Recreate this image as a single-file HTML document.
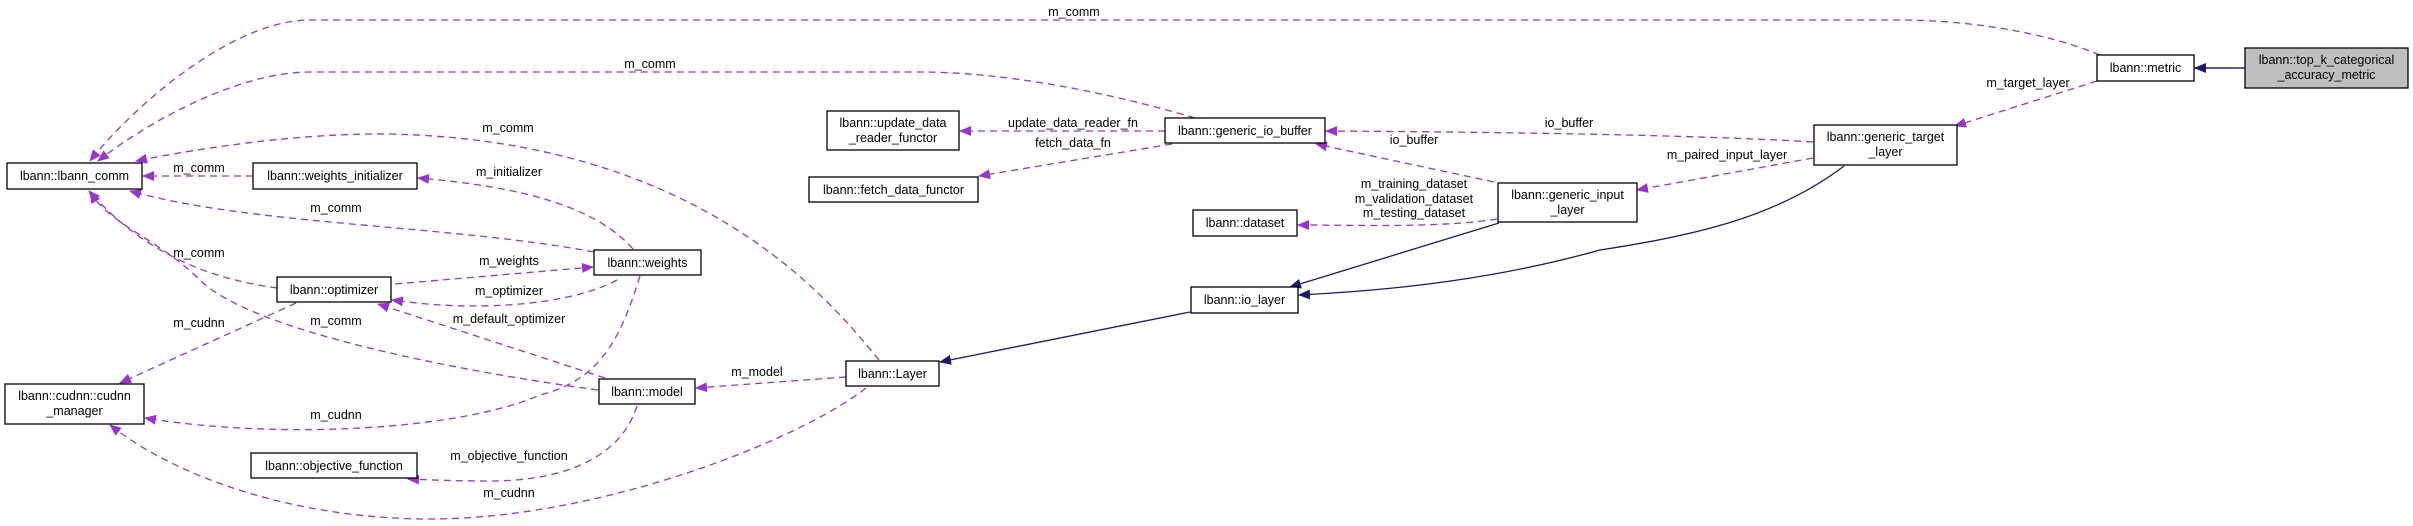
<!DOCTYPE html>
<html><head><meta charset="utf-8"><style>
html,body{margin:0;padding:0;background:#fff;}
svg{display:block;font-family:"Liberation Sans",sans-serif;font-size:12.5px;}
.d{fill:none;stroke:#9a32cd;stroke-width:1.3;stroke-dasharray:7,5;}
.s{fill:none;stroke:#191970;stroke-width:1.3;}
.b{fill:#fff;stroke:#000;stroke-width:1.3;}
text{fill:#000;text-anchor:middle;}
</style></head><body>
<svg width="2413" height="526" viewBox="0 0 2413 526" xmlns="http://www.w3.org/2000/svg">
<defs>
<marker id="p" markerWidth="12" markerHeight="10" refX="11" refY="5" orient="auto" markerUnits="userSpaceOnUse"><path d="M0,0 L12,5 L0,10 z" fill="#9a32cd"/></marker>
<marker id="n" markerWidth="12" markerHeight="10" refX="11" refY="5" orient="auto" markerUnits="userSpaceOnUse"><path d="M0,0 L12,5 L0,10 z" fill="#191970"/></marker>
</defs>
<!-- purple dashed edges -->
<path class="d" marker-end="url(#p)" d="M2100,55 C2040,30 1960,20 1900,20 L310,20 C230,20 130,110 90,161"/>
<path class="d" marker-end="url(#p)" d="M1195,118 C1100,90 1000,72 920,72 L310,72 C240,72 150,120 98,161"/>
<path class="d" marker-end="url(#p)" d="M879,360 C830,300 700,140 388,134 C300,133 200,148 136,161"/>
<path class="d" marker-end="url(#p)" d="M253,176 L143,176"/>
<path class="d" marker-end="url(#p)" d="M594,252 C450,225 250,225 130,191"/>
<path class="d" marker-end="url(#p)" d="M277,288 C220,280 150,260 89,191"/>
<path class="d" marker-end="url(#p)" d="M598,390 C450,370 250,330 200,280 C160,240 110,225 90,192"/>
<path class="d" marker-end="url(#p)" d="M633,249 C590,200 500,185 418,178"/>
<path class="d" marker-end="url(#p)" d="M395,284 L593,267"/>
<path class="d" marker-end="url(#p)" d="M617,280 C580,300 520,306 474,306 C440,306 415,303 392,300"/>
<path class="d" marker-end="url(#p)" d="M605,378 L378,304"/>
<path class="d" marker-end="url(#p)" d="M296,303 L120,383"/>
<path class="d" marker-end="url(#p)" d="M640,276 C620,340 600,380 540,395 C460,430 280,440 145,418"/>
<path class="d" marker-end="url(#p)" d="M866,388 C800,440 600,519 430,519 C300,519 180,480 110,425"/>
<path class="d" marker-end="url(#p)" d="M846,377 L696,388"/>
<path class="d" marker-end="url(#p)" d="M637,406 C620,460 560,481 490,481 C460,481 430,480 408,479"/>
<path class="d" marker-end="url(#p)" d="M1165,131 L960,131"/>
<path class="d" marker-end="url(#p)" d="M1172,144 L979,176"/>
<path class="d" marker-end="url(#p)" d="M1813,142 C1700,135 1500,132 1326,131"/>
<path class="d" marker-end="url(#p)" d="M1494,182 L1316,144"/>
<path class="d" marker-end="url(#p)" d="M1497,219 C1440,228 1360,225 1298,225"/>
<path class="d" marker-end="url(#p)" d="M1813,158 L1637,190"/>
<path class="d" marker-end="url(#p)" d="M2097,81 L1955,126"/>
<!-- solid navy edges -->
<path class="s" marker-end="url(#n)" d="M2245,68 L2195,68" style="stroke:#5a5aa0;stroke-width:2"/>
<path class="s" marker-end="url(#n)" d="M1499,223 L1290,287"/>
<path class="s" marker-end="url(#n)" d="M1844,166 C1780,215 1700,235 1600,250 C1500,278 1400,290 1299,295"/>
<path class="s" marker-end="url(#n)" d="M1190,312 L940,362"/>
<!-- labels -->
<text x="1074" y="16">m_comm</text>
<text x="650" y="68">m_comm</text>
<text x="508" y="132">m_comm</text>
<text x="199" y="172">m_comm</text>
<text x="336" y="212">m_comm</text>
<text x="199" y="257">m_comm</text>
<text x="336" y="325">m_comm</text>
<text x="509" y="176">m_initializer</text>
<text x="509" y="265">m_weights</text>
<text x="509" y="295">m_optimizer</text>
<text x="509" y="323">m_default_optimizer</text>
<text x="199" y="327">m_cudnn</text>
<text x="336" y="419">m_cudnn</text>
<text x="509" y="497">m_cudnn</text>
<text x="757" y="376">m_model</text>
<text x="509" y="460">m_objective_function</text>
<text x="1073" y="127">update_data_reader_fn</text>
<text x="1073" y="147">fetch_data_fn</text>
<text x="1569" y="127">io_buffer</text>
<text x="1414" y="144">io_buffer</text>
<text x="1414" y="188">m_training_dataset</text>
<text x="1414" y="203">m_validation_dataset</text>
<text x="1414" y="217">m_testing_dataset</text>
<text x="1727" y="159">m_paired_input_layer</text>
<text x="2028" y="87">m_target_layer</text>
<!-- boxes -->
<rect class="b" x="7" y="163" width="135" height="26"/><text x="74.5" y="180">lbann::lbann_comm</text>
<rect class="b" x="253" y="163" width="164" height="26"/><text x="335" y="180">lbann::weights_initializer</text>
<rect class="b" x="594" y="250" width="107" height="25"/><text x="647.5" y="267">lbann::weights</text>
<rect class="b" x="277" y="277" width="114" height="25"/><text x="334" y="294">lbann::optimizer</text>
<rect class="b" x="5" y="384" width="139" height="40"/><text x="74.5" y="400">lbann::cudnn::cudnn</text><text x="74.5" y="415">_manager</text>
<rect class="b" x="599" y="379" width="96" height="25"/><text x="647" y="396">lbann::model</text>
<rect class="b" x="251" y="453" width="166" height="25"/><text x="334" y="470">lbann::objective_function</text>
<rect class="b" x="827" y="111" width="132" height="39"/><text x="893" y="127">lbann::update_data</text><text x="893" y="142">_reader_functor</text>
<rect class="b" x="1165" y="118" width="160" height="25"/><text x="1245" y="135">lbann::generic_io_buffer</text>
<rect class="b" x="809" y="177" width="169" height="25"/><text x="893.5" y="194">lbann::fetch_data_functor</text>
<rect class="b" x="1193" y="210" width="104" height="26"/><text x="1245" y="227">lbann::dataset</text>
<rect class="b" x="1498" y="183" width="139" height="39"/><text x="1567.5" y="199">lbann::generic_input</text><text x="1567.5" y="214">_layer</text>
<rect class="b" x="1191" y="287" width="107" height="26"/><text x="1244.5" y="304">lbann::io_layer</text>
<rect class="b" x="846" y="361" width="93" height="25"/><text x="892.5" y="378">lbann::Layer</text>
<rect class="b" x="1814" y="125" width="143" height="40"/><text x="1885.5" y="141">lbann::generic_target</text><text x="1885.5" y="156">_layer</text>
<rect class="b" x="2097" y="55" width="97" height="26"/><text x="2145.5" y="72">lbann::metric</text>
<rect class="b" x="2245" y="48" width="163" height="40" style="fill:#bfbfbf"/><text x="2326.5" y="64">lbann::top_k_categorical</text><text x="2326.5" y="79">_accuracy_metric</text>
</svg>
</body></html>
